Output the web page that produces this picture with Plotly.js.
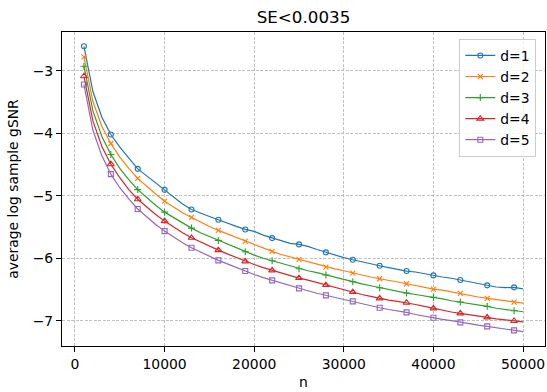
<!DOCTYPE html>
<html>
<head>
<meta charset="utf-8">
<script src="https://cdn.plot.ly/plotly-3.0.1.min.js"></script>
<style>html,body{margin:0;padding:0;background:#fff;}#chart{width:547px;height:392px;}</style>
</head>
<body>
<div id="chart"></div>
<script>
const nValues = [1000,2000,3000,4000,5000,6000,7000,8000,9000,10000,11000,12000,13000,14000,15000,16000,17000,18000,19000,20000,21000,22000,23000,24000,25000,26000,27000,28000,29000,30000,31000,32000,33000,34000,35000,36000,37000,38000,39000,40000,41000,42000,43000,44000,45000,46000,47000,48000,49000,50000];

const d1 = [-2.605,-3.33,-3.74,-4.018,-4.22,-4.40,-4.568,-4.68,-4.79,-4.904,-5.02,-5.13,-5.218,-5.28,-5.33,-5.384,-5.44,-5.49,-5.538,-5.57,-5.63,-5.677,-5.72,-5.76,-5.778,-5.81,-5.86,-5.906,-5.95,-5.99,-6.024,-6.06,-6.09,-6.12,-6.15,-6.18,-6.205,-6.22,-6.25,-6.274,-6.30,-6.32,-6.349,-6.38,-6.41,-6.434,-6.46,-6.47,-6.466,-6.49];
const d2 = [-2.776,-3.49,-3.89,-4.162,-4.38,-4.56,-4.72,-4.85,-4.97,-5.085,-5.18,-5.27,-5.346,-5.42,-5.49,-5.554,-5.61,-5.67,-5.730,-5.79,-5.84,-5.89,-5.94,-5.98,-6.018,-6.06,-6.10,-6.141,-6.17,-6.20,-6.237,-6.27,-6.30,-6.328,-6.36,-6.38,-6.408,-6.44,-6.47,-6.493,-6.51,-6.54,-6.562,-6.59,-6.62,-6.642,-6.66,-6.68,-6.701,-6.717];
const d3 = [-2.925,-3.64,-4.05,-4.338,-4.56,-4.74,-4.90,-5.03,-5.15,-5.261,-5.35,-5.44,-5.517,-5.59,-5.65,-5.714,-5.78,-5.84,-5.896,-5.95,-6.00,-6.04,-6.09,-6.13,-6.168,-6.20,-6.23,-6.268,-6.30,-6.34,-6.376,-6.41,-6.44,-6.472,-6.50,-6.53,-6.557,-6.58,-6.60,-6.626,-6.65,-6.68,-6.701,-6.72,-6.75,-6.77,-6.80,-6.82,-6.84,-6.856];
const d4 = [-3.085,-3.80,-4.21,-4.493,-4.71,-4.90,-5.055,-5.18,-5.30,-5.405,-5.50,-5.59,-5.672,-5.74,-5.81,-5.869,-5.93,-5.99,-6.05,-6.10,-6.15,-6.194,-6.24,-6.28,-6.317,-6.35,-6.39,-6.429,-6.47,-6.51,-6.541,-6.58,-6.61,-6.642,-6.67,-6.69,-6.712,-6.74,-6.77,-6.802,-6.83,-6.86,-6.882,-6.90,-6.92,-6.946,-6.97,-6.99,-7.005,-7.02];
const d5 = [-3.218,-3.95,-4.36,-4.653,-4.87,-5.05,-5.21,-5.34,-5.46,-5.565,-5.66,-5.75,-5.832,-5.90,-5.97,-6.034,-6.09,-6.15,-6.205,-6.26,-6.31,-6.354,-6.40,-6.44,-6.482,-6.52,-6.56,-6.594,-6.63,-6.66,-6.69,-6.73,-6.76,-6.792,-6.82,-6.84,-6.866,-6.90,-6.93,-6.952,-6.98,-7.00,-7.026,-7.05,-7.07,-7.09,-7.11,-7.13,-7.154,-7.176];

const seriesNames = ["d=1","d=2","d=3","d=4","d=5"];
const seriesValues = [d1,d2,d3,d4,d5];
const colors = ["#1f77b4","#ff7f0e","#2ca02c","#d62728","#9467bd"];
const symbols = ["circle-open","x-thin-open","cross-thin-open","triangle-up-open","square-open"];
const sizes = [5,5,5,6,5];
const markEvery = 3;

const FONT = "DejaVu Sans, sans-serif";
const traces = [];
seriesValues.forEach((ys, k) => {
  traces.push({
    x: nValues, y: ys, mode: "lines", type: "scatter",
    line: {color: colors[k], width: 1.2},
    showlegend: false, legendgroup: seriesNames[k], hoverinfo: "skip"
  });
  traces.push({
    x: nValues, y: ys.map((v, i) => (i % markEvery === 0 ? v : null)),
    mode: "lines+markers", type: "scatter", name: seriesNames[k],
    connectgaps: false, legendgroup: seriesNames[k],
    line: {color: colors[k], width: 1.2},
    marker: {symbol: symbols[k], size: sizes[k], color: colors[k], line: {color: colors[k], width: 1.1}}
  });
});

const axisCommon = {
  showline: true, mirror: true, linecolor: "#000", linewidth: 1,
  ticks: "outside", ticklen: 5, tickwidth: 1, tickcolor: "#000",
  showgrid: true, gridcolor: "#b0b0b0", gridwidth: 0.8, griddash: "3px,1.5px",
  zeroline: false, tickfont: {family: FONT, size: 13.9, color: "#000"}
};

const layout = {
  width: 547, height: 392,
  margin: {l: 62, r: 2, t: 32, b: 46},
  paper_bgcolor: "#fff", plot_bgcolor: "#fff",
  font: {family: FONT, size: 13.9, color: "#000"},
  title: {text: "SE&lt;0.0035", font: {family: FONT, size: 16.7, color: "#000"}, x: 0.5, xref: "paper", xanchor: "center", y: 1 - 17/392, yref: "container", yanchor: "middle"},
  xaxis: Object.assign({}, axisCommon, {
    range: [-1450, 52450], tickvals: [0,10000,20000,30000,40000,50000], ticktext: ["0","10000","20000","30000","40000","50000"],
    title: {text: "n", font: {family: FONT, size: 13.9, color: "#000"}, standoff: 6}
  }),
  yaxis: Object.assign({}, axisCommon, {
    range: [-7.405, -2.376], tickvals: [-7,-6,-5,-4,-3],
    title: {text: "average log sample gSNR", font: {family: FONT, size: 13.9, color: "#000"}, standoff: 10}
  }),
  legend: {
    x: 0.982, xanchor: "right", y: 0.978, yanchor: "top",
    bgcolor: "rgba(255,255,255,0.8)", bordercolor: "#cccccc", borderwidth: 1,
    font: {family: FONT, size: 13.9, color: "#000"}, tracegroupgap: 0
  },
  showlegend: true
};

Plotly.newPlot("chart", traces, layout, {displayModeBar: false, staticPlot: true});
</script>
</body>
</html>
